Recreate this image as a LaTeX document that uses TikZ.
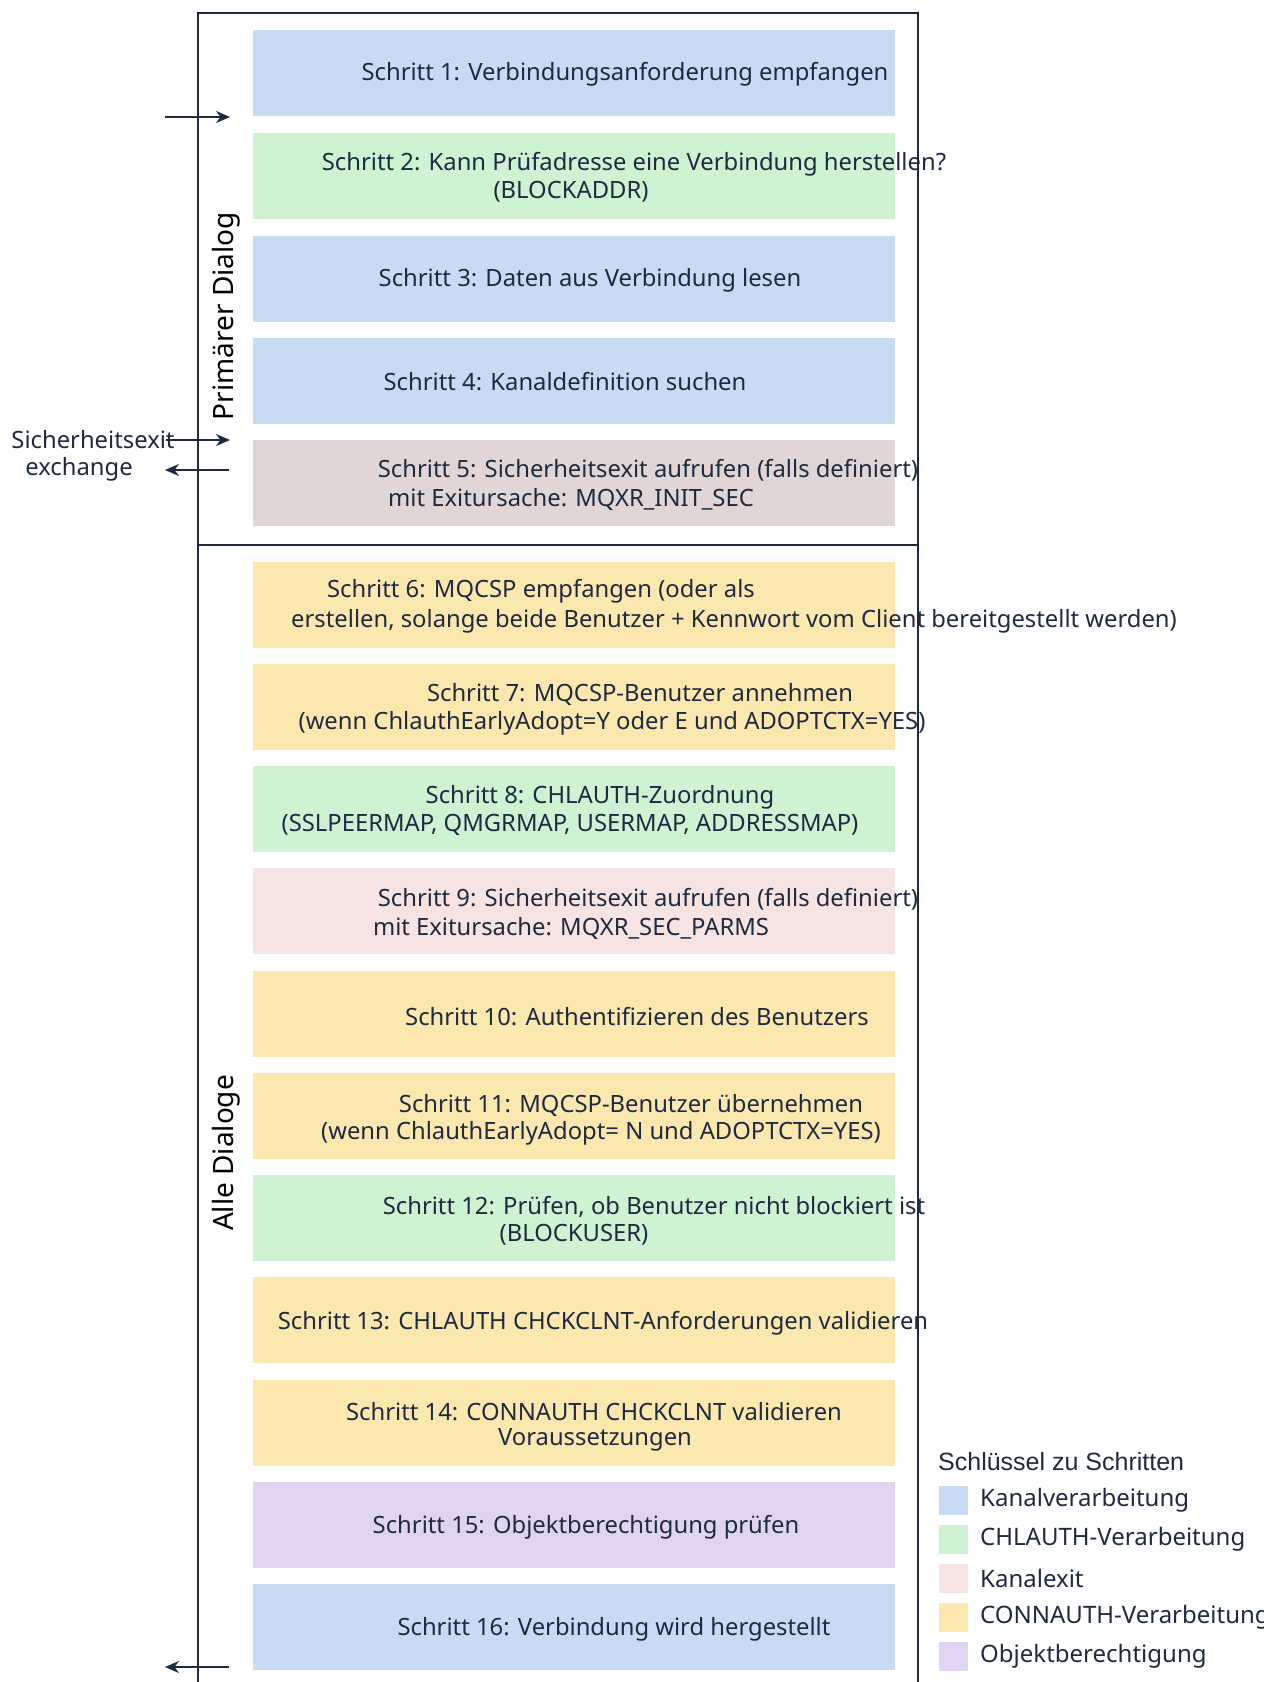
\documentclass[tikz,border=0pt]{standalone}
\usepackage{fontspec}
\setmainfont{Noto Sans}
\newfontfamily\condfont{Noto Sans}
\newfontfamily\arialfont{Liberation Sans}
\usetikzlibrary{arrows.meta}
\definecolor{ink}{HTML}{1E2A40}
\definecolor{cblue}{HTML}{C9DAF3}
\definecolor{cgreen}{HTML}{CEF2D2}
\definecolor{cbrown}{HTML}{E1D5D6}
\definecolor{cpink}{HTML}{F5E4E1}
\definecolor{cyellow}{HTML}{FAE8AE}
\definecolor{cpurple}{HTML}{E0D4F2}
\tikzset{
  stepbox/.style={fill=#1, draw=none, minimum width=642pt, minimum height=86pt, inner sep=0pt, anchor=north west},
  steptext/.style={text=ink, font=\fontsize{23.8}{28}\selectfont, inner sep=0pt, anchor=center},
  frameline/.style={draw=ink, line width=2.4pt},
  flowarrow/.style={draw=ink, line width=2pt, -{Stealth[length=14pt,width=12pt]}},
  swatch/.style={fill=#1, draw=none, minimum width=29pt, minimum height=29pt, inner sep=0pt},
  legtext/.style={text=ink, font=\fontsize{24}{28}\selectfont, inner sep=0pt, anchor=west},
  sidelabel/.style={text=black, font=\condfont\fontsize{28}{32}\selectfont, rotate=90, inner sep=0pt}
}
\begin{document}
\begin{tikzpicture}[x=1pt,y=-1pt]
\useasboundingbox (0,0) rectangle (1264,1682);
% frame
\draw[frameline] (198,545) -- (198,13) -- (918,13) -- (918,1682);
\draw[frameline] (198,545) -- (918,545);
\draw[frameline] (198,545) -- (198,1682);
% boxes
\node[stepbox=cblue]   (s1)  at (253,30)   {};
\node[stepbox=cgreen]  (s2)  at (253,133)  {};
\node[stepbox=cblue]   (s3)  at (253,236)  {};
\node[stepbox=cblue]   (s4)  at (253,338)  {};
\node[stepbox=cbrown]  (s5)  at (253,440)  {};
\node[stepbox=cyellow] (s6)  at (253,562)  {};
\node[stepbox=cyellow] (s7)  at (253,664)  {};
\node[stepbox=cgreen]  (s8)  at (253,766)  {};
\node[stepbox=cpink]   (s9)  at (253,868)  {};
\node[stepbox=cyellow] (s10) at (253,971)  {};
\node[stepbox=cyellow] (s11) at (253,1073) {};
\node[stepbox=cgreen]  (s12) at (253,1175) {};
\node[stepbox=cyellow] (s13) at (253,1277) {};
\node[stepbox=cyellow] (s14) at (253,1380) {};
\node[stepbox=cpurple] (s15) at (253,1482) {};
\node[stepbox=cblue]   (s16) at (253,1584) {};
% texts
\node[steptext] (t1)  at (625,74)   {Schritt 1: Verbindungsanforderung empfangen};
\node[steptext] (t2a) at (634,164)  {Schritt 2: Kann Prüfadresse eine Verbindung herstellen?};
\node[steptext] (t2b) at (571,192)  {(BLOCKADDR)};
\node[steptext] (t3)  at (590,280)  {Schritt 3: Daten aus Verbindung lesen};
\node[steptext] (t4)  at (565,382)  {Schritt 4: Kanaldefinition suchen};
\node[steptext] (t5a) at (648,470)  {Schritt 5: Sicherheitsexit aufrufen (falls definiert)};
\node[steptext] (t5b) at (571,499)  {mit Exitursache: MQXR\_INIT\_SEC};
\node[steptext] (t6a) at (541,591)  {Schritt 6: MQCSP empfangen (oder als};
\node[steptext] (t6b) at (734,621)  {erstellen, solange beide Benutzer + Kennwort vom Client bereitgestellt werden)};
\node[steptext] (t7a) at (640,694)  {Schritt 7: MQCSP-Benutzer annehmen};
\node[steptext] (t7b) at (612,723)  {(wenn ChlauthEarlyAdopt=Y oder E und ADOPTCTX=YES)};
\node[steptext] (t8a) at (600,797)  {Schritt 8: CHLAUTH-Zuordnung};
\node[steptext] (t8b) at (570,825)  {(SSLPEERMAP, QMGRMAP, USERMAP, ADDRESSMAP)};
\node[steptext] (t9a) at (648,899)  {Schritt 9: Sicherheitsexit aufrufen (falls definiert)};
\node[steptext] (t9b) at (571,928)  {mit Exitursache: MQXR\_SEC\_PARMS};
\node[steptext] (t10) at (637,1017) {Schritt 10: Authentifizieren des Benutzers};
\node[steptext] (t11a) at (631,1105) {Schritt 11: MQCSP-Benutzer übernehmen};
\node[steptext] (t11b) at (601,1133) {(wenn ChlauthEarlyAdopt= N und ADOPTCTX=YES)};
\node[steptext] (t12a) at (654,1207) {Schritt 12: Prüfen, ob Benutzer nicht blockiert ist};
\node[steptext] (t12b) at (574,1235) {(BLOCKUSER)};
\node[steptext] (t13) at (603,1323) {Schritt 13: CHLAUTH CHCKCLNT-Anforderungen validieren};
\node[steptext] (t14a) at (594,1412) {Schritt 14: CONNAUTH CHCKCLNT validieren};
\node[steptext] (t14b) at (595,1440) {Voraussetzungen};
\node[steptext] (t15) at (586,1527) {Schritt 15: Objektberechtigung prüfen};
\node[steptext] (t16) at (614,1629) {Schritt 16: Verbindung wird hergestellt};
% side labels
\node[sidelabel] (lp) at (226,316)  {Primärer Dialog};
\node[sidelabel] (la) at (226,1153) {Alle Dialoge};
% left labels
\node[steptext] (sx1) at (93,440) {Sicherheitsexit};
\node[steptext] (sx2) at (79,469) {exchange};
% arrows
\coordinate (a1s) at (165,117);
\coordinate (a1e) at (230,117);
\coordinate (a2s) at (166,440);
\coordinate (a2e) at (230,440);
\coordinate (a3s) at (229,470);
\coordinate (a3e) at (165,470);
\coordinate (a4s) at (229,1667);
\coordinate (a4e) at (165,1667);
\draw[flowarrow] (a1s) -- (a1e);
\draw[flowarrow] (a2s) -- (a2e);
\draw[flowarrow] (a3s) -- (a3e);
\draw[flowarrow] (a4s) -- (a4e);
% legend
\node[text=ink, font=\arialfont\fontsize{25}{29}\selectfont, inner sep=0pt, anchor=west] (lt) at (938,1462) {Schlüssel zu Schritten};
\node[swatch=cblue]   (k1) at (953,1500) {};
\node[swatch=cgreen]  (k2) at (953,1539) {};
\node[swatch=cpink]   (k3) at (953,1578) {};
\node[swatch=cyellow] (k4) at (953,1617) {};
\node[swatch=cpurple] (k5) at (953,1656) {};
\node[legtext] (l1) at (980,1500) {Kanalverarbeitung};
\node[legtext] (l2) at (980,1539) {CHLAUTH-Verarbeitung};
\node[legtext] (l3) at (980,1578) {Kanalexit};
\node[legtext] (l4) at (980,1617) {CONNAUTH-Verarbeitung};
\node[legtext] (l5) at (980,1656) {Objektberechtigung};
\end{tikzpicture}
\end{document}
